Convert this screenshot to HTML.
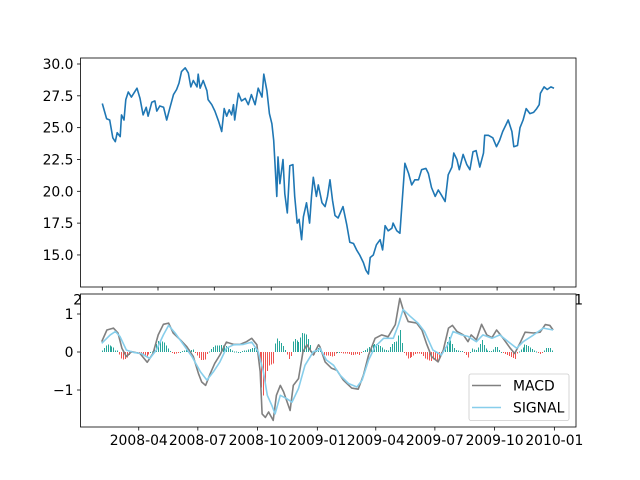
<!DOCTYPE html>
<html><head><meta charset="utf-8"><style>
html,body{margin:0;padding:0;background:#fff;}
svg{display:block;font-family:"DejaVu Sans","Liberation Sans",sans-serif;}
</style></head><body>
<svg id="chart" width="640" height="480" viewBox="0 0 640 480"></svg>
<script>
// ---- Price panel data (calendar day offset from 2008-01-02, price) ----
const priceDays=[0,4,7,12,17,21,24,29,31,35,38,42,47,56,61,66,71,74,80,85,88,93,99,104,109,115,120,124,128,134,139,143,147,153,155,158,163,169,171,177,182,188,193,197,201,205,209,212,214,220,225,231,236,241,247,252,258,261,266,270,274,277,282,284,287,292,295,299,303,308,311,315,318,322,325,330,335,338,341,346,349,355,360,364,368,372,376,381,389,395,400,406,411,416,422,426,430,433,438,443,449,453,457,462,468,470,476,481,484,489,495,500,505,511,516,523,527,532,538,543,548,554,559,565,568,573,577,583,589,594,599,604,610,616,618,624,631,637,642,647,652,656,662,665,671,675,680,685,691,697,702,706,708,714,719,725,730];
const priceValues=[26.9,26.2,25.7,25.6,24.2,23.9,24.6,24.3,26.0,25.6,27.2,27.8,27.4,28.1,27.3,26.0,26.6,25.9,27.0,27.1,26.3,26.7,26.6,25.6,26.5,27.6,28.0,28.5,29.4,29.7,29.3,28.2,28.7,28.2,29.2,28.1,28.7,27.9,27.2,26.8,26.3,25.5,24.7,26.5,25.9,26.4,26.0,26.8,25.6,27.7,27.1,27.3,26.8,27.6,26.8,28.1,27.4,29.2,27.9,26.1,25.3,24.0,19.6,22.7,20.6,22.5,19.8,18.3,22.0,22.1,19.6,17.5,17.8,16.2,18.0,19.1,17.5,19.6,21.1,19.6,20.5,19.1,18.8,19.6,20.9,19.3,18.1,17.9,18.8,17.4,16.0,15.9,15.4,15.0,14.4,13.8,13.5,14.8,15.0,15.8,16.2,15.4,17.3,16.9,17.1,17.5,16.9,16.7,18.8,22.2,21.4,20.5,20.9,20.9,21.7,21.8,21.4,20.3,19.6,20.1,19.7,19.2,21.3,21.9,23.0,22.5,21.7,22.9,22.1,21.7,23.1,23.2,21.9,23.0,24.4,24.4,24.2,23.5,24.0,24.7,25.2,25.6,24.7,23.5,23.6,25.0,25.6,26.5,26.1,26.2,26.5,26.8,27.7,28.2,28.0,28.2,28.1];
const priceTicks=[15.0,17.5,20.0,22.5,25.0,27.5,30.0];
const dateTickDays=[0,90,181,273,365,455,546,638,730];
const dateTickLabels=["2008-01","2008-04","2008-07","2008-10","2009-01","2009-04","2009-07","2009-10","2010-01"];
// ---- MACD panel data ----
const macdDays=[33,41,51,58,64,71,79,92,103,112,120,128,136,143,154,164,174,182,187,193,200,207,215,225,236,246,256,264,272,277,280,285,290,297,302,308,313,323,328,336,343,349,359,367,369,377,387,395,405,418,428,436,444,454,464,474,485,492,497,505,518,526,533,541,551,559,567,573,580,590,597,602,610,618,626,634,641,651,662,669,677,685,698,708,716,723,728];
const macdValues=[0.27,0.58,0.63,0.5,0.1,-0.12,0.01,-0.04,-0.27,-0.04,0.45,0.73,0.76,0.5,0.32,0.14,-0.12,-0.57,-0.79,-0.88,-0.57,-0.3,-0.08,0.26,0.2,0.2,0.27,0.36,0.19,-0.52,-1.63,-1.72,-1.58,-1.8,-1.14,-0.88,-1.05,-1.54,-0.88,-0.7,0.01,0.19,-0.08,0.19,0.14,-0.26,-0.43,-0.48,-0.74,-0.95,-0.98,-0.61,-0.08,0.36,0.45,0.4,0.72,1.41,1.12,0.8,0.76,0.58,0.23,-0.12,-0.26,0.05,0.63,0.7,0.54,0.45,0.27,0.45,0.32,0.73,0.45,0.38,0.58,0.36,0.1,-0.04,0.23,0.52,0.5,0.52,0.72,0.7,0.58];
const signalDays=[33,46,54,61,71,82,94,107,117,128,136,146,159,172,185,195,205,215,225,236,251,264,274,282,288,295,300,308,318,326,336,346,359,367,369,379,390,400,413,426,434,444,454,467,482,490,497,508,520,530,543,556,567,574,587,597,610,620,634,646,659,672,682,698,713,728];
const signalValues=[0.23,0.45,0.54,0.41,0.05,-0.01,-0.04,-0.17,0.05,0.45,0.7,0.5,0.19,-0.12,-0.52,-0.74,-0.52,-0.26,0.1,0.19,0.2,0.26,0.01,-0.52,-1.14,-1.41,-1.63,-1.14,-1.23,-1.32,-0.96,-0.35,0.01,0.05,0.1,-0.21,-0.35,-0.61,-0.83,-0.92,-0.74,-0.21,0.14,0.36,0.36,0.72,1.12,0.94,0.76,0.54,0.05,-0.08,0.23,0.54,0.45,0.41,0.27,0.45,0.36,0.45,0.27,0.1,0.27,0.45,0.63,0.58];
const macdTicks=[-1,0,1];

const NS="http://www.w3.org/2000/svg";
const svg=document.getElementById('chart');
function mk(tag,attrs,parent){const e=document.createElementNS(NS,tag);for(const k in attrs)e.setAttribute(k,attrs[k]);(parent||svg).appendChild(e);return e;}

const T={l:80.5,r:576,t:58,b:287};
const B={l:80.5,r:576,t:294,b:427};
const xTop=d=>102.3+d*0.6188;
const yTop=v=>64+(30-v)*12.73;
const xBot=d=>80.3+d*0.6494;
const yBot=v=>352-v*38;

function interp(ds,vs,d){if(d<=ds[0])return vs[0];for(let i=1;i<ds.length;i++){if(d<=ds[i]){const f=(d-ds[i-1])/(ds[i]-ds[i-1]);return vs[i-1]+f*(vs[i]-vs[i-1]);}}return vs[vs.length-1];}

// ---------- Top panel ----------
const gTop=mk('g',{});


mk('rect',{x:T.l,y:T.t,width:T.r-T.l,height:T.b-T.t,fill:'#fff'},gTop);
dateTickDays.forEach((d,i)=>{
  const x=xTop(d);
  const t=mk('line',{x1:x,x2:x,y1:T.b,y2:T.b+3.5,stroke:'#000','stroke-width':0.8},gTop);
  
  
  const lb=mk('text',{x:x,y:T.b+17.5,'font-size':13.9,'text-anchor':'middle',fill:'#000'},gTop);
  lb.textContent=dateTickLabels[i];
  
  
});
priceTicks.forEach(v=>{
  const y=yTop(v);
  const t=mk('line',{x1:T.l-3.5,x2:T.l,y1:y,y2:y,stroke:'#000','stroke-width':0.8},gTop);
  
  
  const lb=mk('text',{x:T.l-7,y:y+5,'font-size':13.9,'text-anchor':'end',fill:'#000'},gTop);
  lb.textContent=v.toFixed(1);
  
  
});
let pp=priceDays.map((d,i)=>(i?'L':'M')+xTop(d).toFixed(1)+' '+yTop(priceValues[i]).toFixed(1)).join(' ');
const pl=mk('path',{d:pp,fill:'none',stroke:'#1f77b4','stroke-width':1.6,'stroke-linejoin':'round'},gTop);


mk('rect',{x:T.l,y:T.t,width:T.r-T.l,height:T.b-T.t,fill:'none',stroke:'#000','stroke-width':0.8},gTop);

// ---------- Bottom panel ----------
const gBot=mk('g',{});


mk('rect',{x:B.l,y:B.t,width:B.r-B.l,height:B.b-B.t,fill:'#fff'},gBot);
for(let d=macdDays[0];d<=728;d+=3){
  const h=interp(macdDays,macdValues,d)-interp(signalDays,signalValues,d);
  const x=Math.round(xBot(d));const y0=yBot(0),y1=yBot(h);
  const r=mk('rect',{x:x,y:Math.min(y0,y1),width:1,height:Math.max(1,Math.abs(y1-y0)),fill:h>=0?'#26a69a':'#ef5350','shape-rendering':'crispEdges'},gBot);
  
  
}
let mp=macdDays.map((d,i)=>(i?'L':'M')+xBot(d).toFixed(1)+' '+yBot(macdValues[i]).toFixed(1)).join(' ');
const ml=mk('path',{d:mp,fill:'none',stroke:'#808080','stroke-width':1.6,'stroke-linejoin':'round'},gBot);


let sp=signalDays.map((d,i)=>(i?'L':'M')+xBot(d).toFixed(1)+' '+yBot(signalValues[i]).toFixed(1)).join(' ');
const sl=mk('path',{d:sp,fill:'none',stroke:'#87ceeb','stroke-width':1.6,'stroke-linejoin':'round'},gBot);


dateTickDays.slice(1).forEach((d,i)=>{
  const x=xBot(d);
  const t=mk('line',{x1:x,x2:x,y1:B.b,y2:B.b+3.5,stroke:'#000','stroke-width':0.8},gBot);
  
  
  const lb=mk('text',{x:x,y:B.b+18,'font-size':13.9,'text-anchor':'middle',fill:'#000'},gBot);
  lb.textContent=dateTickLabels[i+1];
  
  
});
macdTicks.forEach(v=>{
  const y=yBot(v);
  const t=mk('line',{x1:B.l-3.5,x2:B.l,y1:y,y2:y,stroke:'#000','stroke-width':0.8},gBot);
  
  
  const lb=mk('text',{x:B.l-7,y:y+5,'font-size':13.9,'text-anchor':'end',fill:'#000'},gBot);
  lb.textContent=v<0?'\u2212'+Math.abs(v):String(v);
  
  
});
mk('rect',{x:B.l,y:B.t,width:B.r-B.l,height:B.b-B.t,fill:'none',stroke:'#000','stroke-width':0.8},gBot);

// legend
const lg=mk('g',{});


mk('rect',{x:469,y:374,width:100,height:46.5,rx:2,fill:'#fff','fill-opacity':0.8,stroke:'#ccc','stroke-width':0.8},lg);
const e1=mk('g',{},lg);


mk('line',{x1:472,x2:501,y1:385.5,y2:385.5,stroke:'#808080','stroke-width':1.5},e1);
const t1=mk('text',{x:513,y:390.5,'font-size':13.9,fill:'#000'},e1);t1.textContent='MACD';
const e2=mk('g',{},lg);


mk('line',{x1:472,x2:501,y1:407.5,y2:407.5,stroke:'#87ceeb','stroke-width':1.5},e2);
const t2=mk('text',{x:513,y:412.5,'font-size':13.9,fill:'#000'},e2);t2.textContent='SIGNAL';
</script>
</body></html>
